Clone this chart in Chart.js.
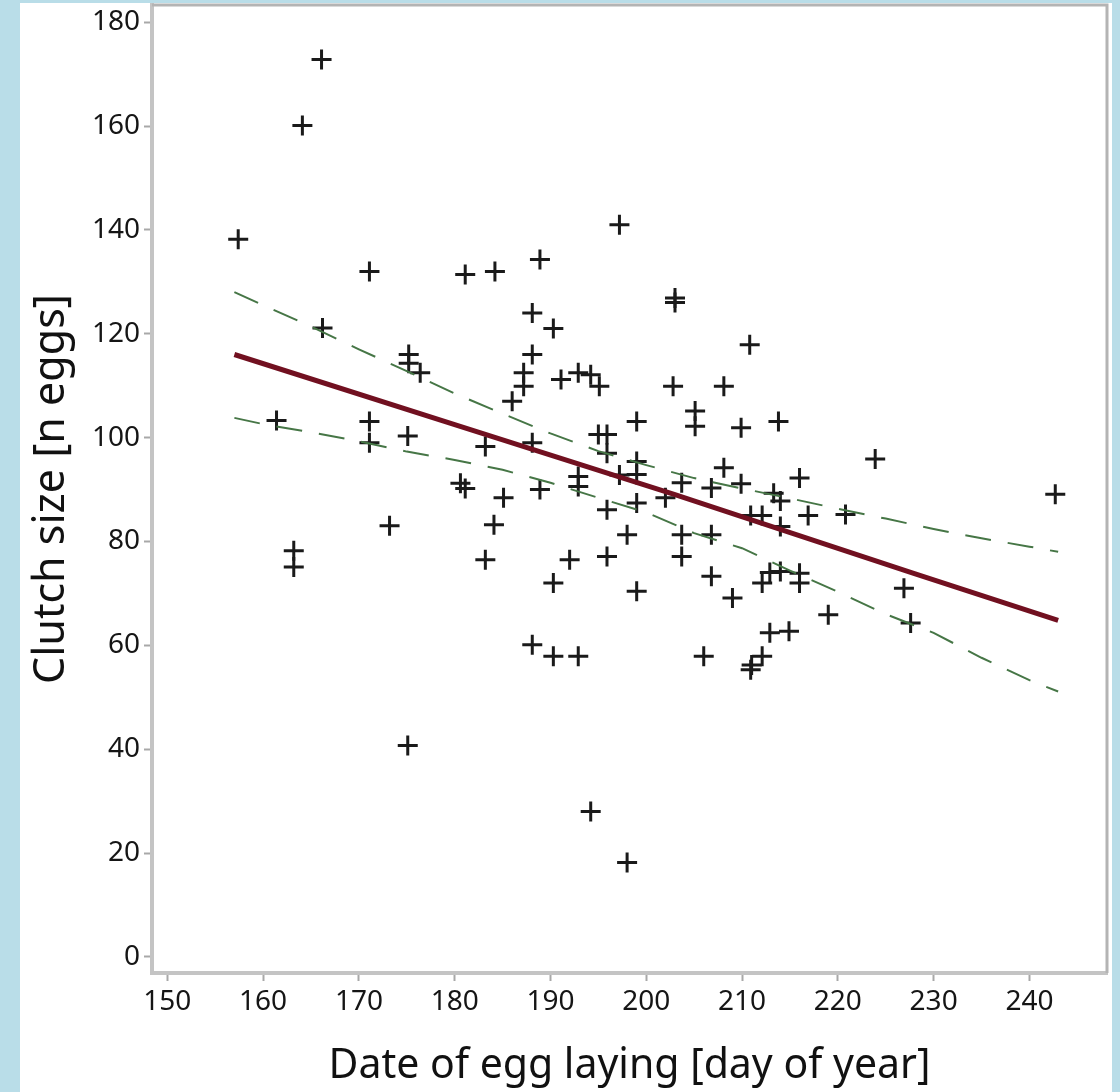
<!DOCTYPE html>
<html>
<head>
<meta charset="utf-8">
<script src="https://cdn.jsdelivr.net/npm/chart.js@4.4.1/dist/chart.umd.min.js"></script>
<style>
  html, body { margin: 0; padding: 0; }
  body { width: 1120px; height: 1092px; background: #b9dde8; position: relative; overflow: hidden; }
  .card { position: absolute; left: 20px; top: 3px; width: 1092px; height: 1089px; background: #fff; }
  #grafico { position: absolute; left: 0; top: 0; }
</style>
</head>
<body>
<div class="card"></div>
<canvas id="grafico" width="1120" height="1092"></canvas>
<script>
// dados
const layDay = [
  157.4, 161.4, 163.2, 163.2, 164.1, 166.1, 166.2, 171.1, 171.1, 171.1,
  173.2, 175.2, 175.2, 176.4, 175.1, 175.1, 180.6, 181.1, 181.1, 183.2,
  183.2, 184.2, 184.1, 185.1, 186.0, 187.2, 187.2, 188.1, 188.1, 188.1,
  188.1, 188.9, 188.9, 190.3, 190.3, 190.3, 191.1, 192.0, 192.9, 192.9,
  192.9, 192.9, 194.2, 194.2, 195.1, 195.0, 195.9, 195.9, 195.9, 195.9,
  197.2, 197.2, 198.0, 198.0, 199.0, 199.0, 199.0, 199.0, 199.0, 202.0,
  203.0, 203.0, 202.8, 203.7, 203.7, 203.7, 205.1, 205.1, 206.0, 206.8,
  206.8, 206.8, 208.1, 208.1, 209.0, 209.9, 209.9, 210.8, 210.9, 211.0,
  210.9, 212.1, 212.1, 212.1, 212.9, 212.9, 213.3, 213.8, 214.0, 214.0,
  214.0, 214.9, 216.0, 216.0, 216.0, 216.9, 219.0, 220.8, 223.9, 226.9,
  227.6, 242.7,
];
const clutchSize = [
  138.2, 103.3, 78.2, 75.1, 160.1, 172.8, 121.1, 132.0, 103.1, 99.0,
  83.0, 116.0, 114.3, 112.5, 100.3, 40.7, 91.2, 90.2, 131.4, 98.3,
  76.5, 132.0, 83.2, 88.4, 107.0, 112.5, 109.9, 124.0, 116.0, 99.0,
  60.1, 134.3, 90.0, 121.0, 72.0, 57.9, 111.2, 76.5, 112.5, 92.5,
  90.6, 57.9, 112.1, 28.0, 109.9, 100.6, 100.6, 97.0, 86.1, 77.1,
  141.0, 92.8, 81.3, 18.2, 103.1, 95.4, 92.9, 87.4, 70.4, 88.4,
  126.9, 126.0, 109.9, 91.3, 81.3, 77.1, 105.1, 102.2, 57.9, 90.3,
  81.3, 73.3, 109.9, 94.2, 69.1, 101.9, 91.1, 117.9, 85.0, 56.2,
  55.3, 85.0, 72.0, 57.9, 74.0, 62.4, 89.3, 103.1, 87.8, 82.9,
  74.2, 62.7, 92.2, 73.9, 72.0, 85.0, 65.9, 85.2, 95.9, 71.0,
  64.3, 89.1,
];

// linha de regressão
const fitDay = [157, 180, 203, 228, 243];
const fitSize = [116, 102.5, 89, 73.8, 64.8];

// intervalo de confiança (linhas tracejadas)
const bandDay = [157, 160, 165, 170, 175, 180, 185, 190, 195, 200, 205, 210, 215, 220, 225, 230, 235, 240, 243];
const bandUpper = [128, 125.5, 121.4, 117, 112.8, 108.5, 104.6, 100.8, 97.4, 94.7, 92.2, 90.2, 88.3, 86.3, 84.4, 82.4, 80.6, 79, 78];
const bandLower = [103.8, 102.6, 101, 99.3, 97.3, 95.7, 93.8, 91.3, 88.4, 85.6, 81.6, 78.7, 74.4, 70.3, 66, 62.4, 57.6, 53.3, 51.1];

const xTicks = [150, 160, 170, 180, 190, 200, 210, 220, 230, 240];
const yTicks = [0, 20, 40, 60, 80, 100, 120, 140, 160, 180];

const toPoints = (xs, ys) => xs.map((x, i) => ({ x: x, y: ys[i] }));

// moldura de cima e da direita
const frame = {
  id: "frame",
  afterDraw(chart) {
    const { ctx, chartArea: a } = chart;
    ctx.save();
    ctx.strokeStyle = "#b4b4b4";
    ctx.lineWidth = 3;
    ctx.beginPath();
    ctx.moveTo(a.left, a.top);
    ctx.lineTo(a.right, a.top);
    ctx.lineTo(a.right, a.bottom);
    ctx.stroke();
    ctx.restore();
  },
};

const tickFont = { family: "'Noto Sans', sans-serif", size: 28 };

const ctx = document.getElementById("grafico");

new Chart(ctx, {
  type: "scatter",
  data: {
    datasets: [
      {
        data: toPoints(layDay, clutchSize),
        pointStyle: "cross",
        pointRadius: 10,
        pointBorderWidth: 3,
        borderColor: "#1a1a1a",
        backgroundColor: "#1a1a1a",
        order: 3,
      },
      {
        type: "line",
        data: toPoints(bandDay, bandUpper),
        borderColor: "rgb(70, 118, 70)",
        borderWidth: 2,
        borderDash: [26, 17],
        pointRadius: 0,
        fill: false,
        order: 2,
      },
      {
        type: "line",
        data: toPoints(bandDay, bandLower),
        borderColor: "rgb(70, 118, 70)",
        borderWidth: 2,
        borderDash: [26, 17],
        pointRadius: 0,
        fill: false,
        order: 2,
      },
      {
        type: "line",
        data: toPoints(fitDay, fitSize),
        borderColor: "#711020",
        borderWidth: 5,
        pointRadius: 0,
        fill: false,
        order: 1,
      },
    ],
  },
  options: {
    responsive: false,
    animation: false,
    layout: { autoPadding: false, padding: { top: 5, right: 13, left: 0, bottom: 0 } },
    plugins: { legend: { display: false }, tooltip: { enabled: false } },
    scales: {
      x: {
        type: "linear",
        min: 148.4,
        max: 248.1,
        afterBuildTicks: (axis) => { axis.ticks = xTicks.map((v) => ({ value: v })); },
        afterFit: (scale) => { scale.height = 119; },
        border: { color: "#c4c4c4", width: 4 },
        grid: { drawOnChartArea: false, drawTicks: true, tickLength: 8, tickColor: "#a8a8a8", tickWidth: 2 },
        ticks: { color: "#151515", font: tickFont, padding: 4, maxRotation: 0 },
        title: {
          display: true,
          text: "Date of egg laying [day of year]",
          color: "#111",
          font: { family: "'Noto Sans', sans-serif", size: 41 },
          padding: { top: 0, bottom: 1 },
        },
      },
      y: {
        type: "linear",
        min: -3.1,
        max: 183.3,
        afterBuildTicks: (axis) => { axis.ticks = yTicks.map((v) => ({ value: v })); },
        afterFit: (scale) => {
          scale.width = 152;
          // o rótulo 180 não deve empurrar a área do gráfico
          scale.paddingTop = 0;
          scale.paddingBottom = 0;
        },
        border: { color: "#c4c4c4", width: 4 },
        grid: { drawOnChartArea: false, drawTicks: true, tickLength: 8, tickColor: "#a8a8a8", tickWidth: 2 },
        ticks: { color: "#151515", font: tickFont, padding: 4 },
        title: {
          display: true,
          text: "Clutch size [n eggs]",
          color: "#111",
          font: { family: "'Noto Sans', sans-serif", size: 43 },
          padding: { top: 26, bottom: 0 },
        },
      },
    },
  },
  plugins: [frame],
});
</script>
</body>
</html>
